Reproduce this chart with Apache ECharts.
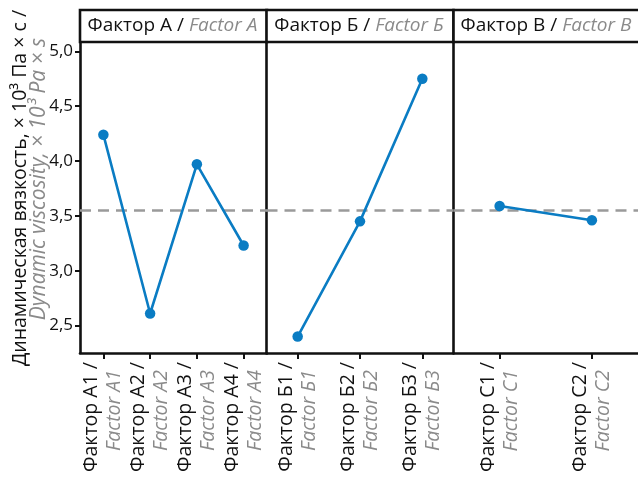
<!DOCTYPE html>
<html>
<head>
<meta charset="utf-8">
<script src="https://cdn.jsdelivr.net/npm/echarts@6/dist/echarts.min.js"></script>
<style>
  html, body { margin: 0; padding: 0; background: #fff; }
  #chart { width: 638px; height: 477px; }
</style>
</head>
<body>
<div id="chart"></div>
<script>
// Panel A: four levels
const labelsA_ru = ['Фактор А1 /', 'Фактор А2 /', 'Фактор А3 /', 'Фактор А4 /'];
const labelsA_en = ['Factor A1', 'Factor A2', 'Factor A3', 'Factor A4'];
const valuesA = [4.24, 2.61, 3.97, 3.23];

// Panel B: three levels
const labelsB_ru = ['Фактор Б1 /', 'Фактор Б2 /', 'Фактор Б3 /'];
const labelsB_en = ['Factor Б1', 'Factor Б2', 'Factor Б3'];
const valuesB = [2.40, 3.45, 4.75];

// Panel C: two levels
const labelsC_ru = ['Фактор С1 /', 'Фактор С2 /'];
const labelsC_en = ['Factor C1', 'Factor C2'];
const valuesC = [3.59, 3.46];

// Panel headers
const panelTitles_ru = ['Фактор А / ', 'Фактор Б / ', 'Фактор В / '];
const panelTitles_en = ['Factor A', 'Factor Б', 'Factor B'];

// Overall mean (dashed reference line)
const meanValue = 3.55;

// Value axis
const yTicks = [2.5, 3.0, 3.5, 4.0, 4.5, 5.0];
const yMin = 2.25;
const yMax = 5.085;

const yTitle_ru = 'Динамическая вязкость, × 10³ Па × с /';
const yTitle_en = 'Dynamic viscosity, × 10³ Pa × s';

const FONT = 'Open Sans';
const BLUE = '#0a7cc3';
const GREY_TEXT = '#8a8a8a';
const INK = '#111111';
const FRAME_W = 2.6;

const panels = [
  { ru: labelsA_ru, en: labelsA_en, vals: valuesA },
  { ru: labelsB_ru, en: labelsB_en, vals: valuesB },
  { ru: labelsC_ru, en: labelsC_en, vals: valuesC }
];

const plotTop = 42, plotHeight = 311, headerTop = 10;
const panelLeft = [80, 266.5, 453.5];
const panelWidth = 187;

const chart = echarts.init(document.getElementById('chart'), null, { renderer: 'canvas' });

const grids = [], xAxes = [], yAxes = [], series = [], graphics = [];

panels.forEach((p, i) => {
  grids.push({
    left: panelLeft[i], top: plotTop, width: panelWidth, height: plotHeight,
    show: false, containLabel: false
  });
  xAxes.push({
    type: 'category', gridIndex: i, data: p.ru, boundaryGap: true,
    axisLine: { show: true, lineStyle: { color: INK, width: FRAME_W } },
    axisTick: { show: true, alignWithLabel: true, length: 6, lineStyle: { color: INK, width: 2 } },
    axisLabel: {
      rotate: 90, margin: 9, interval: 0,
      formatter: (v, idx) => '{a|' + v + '}\n{b|' + p.en[idx] + '}',
      rich: {
        a: { fontFamily: FONT, fontSize: 19.5, color: INK, lineHeight: 23 },
        b: { fontFamily: FONT, fontSize: 19.5, color: GREY_TEXT, fontStyle: 'italic', lineHeight: 23, padding: [0, 8, 0, 0] }
      }
    },
    splitLine: { show: false }
  });
  yAxes.push({
    type: 'value', gridIndex: i, min: yMin, max: yMax,
    // left edge of each panel doubles as the separator line
    axisLine: { show: true, onZero: false, lineStyle: { color: INK, width: FRAME_W } },
    axisTick: i === 0 ? { show: true, length: 5, customValues: yTicks, lineStyle: { color: INK, width: 2 } } : { show: false },
    axisLabel: i === 0 ? {
      show: true, margin: 7, customValues: yTicks,
      fontFamily: FONT, fontSize: 17, color: INK,
      formatter: v => v.toFixed(1).replace('.', ',')
    } : { show: false },
    splitLine: { show: false }
  });
  series.push({
    type: 'line', xAxisIndex: i, yAxisIndex: i, data: p.vals,
    symbol: 'circle', symbolSize: 10.5,
    lineStyle: { color: BLUE, width: 2.6 },
    itemStyle: { color: BLUE },
    z: 3,
    markLine: {
      silent: true, symbol: 'none', label: { show: false },
      lineStyle: { color: '#9a9a9a', width: 2.6, type: [11, 7] },
      data: [{ yAxis: meanValue }],
      z: 2
    }
  });

  // header strip above each panel
  graphics.push({
    type: 'rect', z: 10,
    shape: { x: panelLeft[i], y: headerTop, width: panelWidth, height: plotTop - headerTop },
    style: { fill: '#fff', stroke: INK, lineWidth: FRAME_W }
  });
  graphics.push({
    type: 'text', z: 11,
    x: panelLeft[i] + panelWidth / 2 - 1, y: (headerTop + plotTop) / 2,
    style: {
      text: '{a|' + panelTitles_ru[i] + '}{b|' + panelTitles_en[i] + '}',
      align: 'center', verticalAlign: 'middle',
      rich: {
        a: { fontFamily: FONT, fontSize: 19, fill: INK },
        b: { fontFamily: FONT, fontSize: 19, fill: GREY_TEXT, fontStyle: 'italic' }
      }
    }
  });
});

// axis title, two languages on two lines
graphics.push({
  type: 'text', x: 20, y: 188, rotation: Math.PI / 2,
  style: { text: yTitle_ru, align: 'center', verticalAlign: 'middle', fontFamily: FONT, fontSize: 19.5, fill: INK }
});
graphics.push({
  type: 'text', x: 39.5, y: 179, rotation: Math.PI / 2,
  style: { text: yTitle_en, align: 'center', verticalAlign: 'middle', fontFamily: FONT, fontSize: 21, fontStyle: 'italic', fill: GREY_TEXT }
});

chart.setOption({
  animation: false,
  backgroundColor: '#fff',
  grid: grids,
  xAxis: xAxes,
  yAxis: yAxes,
  series: series,
  graphic: { elements: graphics }
});
</script>
</body>
</html>
